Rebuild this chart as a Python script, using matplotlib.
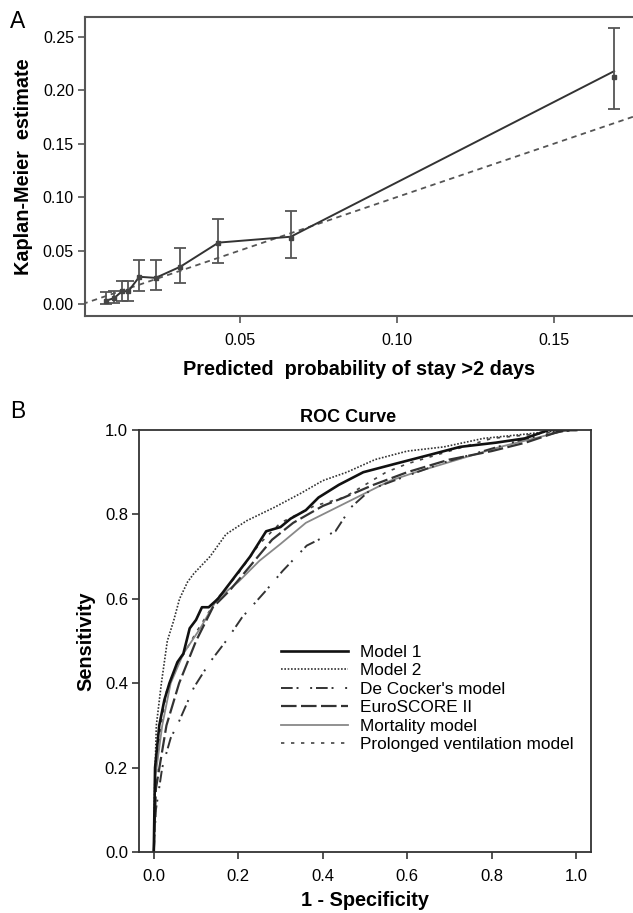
import matplotlib
matplotlib.use("Agg")
import matplotlib.pyplot as plt
import numpy as np

plt.rcParams['font.family'] = ['Liberation Sans', 'DejaVu Sans']

# ---------------- Panel A data (calibration) ----------------
pred_prob = [0.0074, 0.0101, 0.0126, 0.0146, 0.0181, 0.0233, 0.0312, 0.0433, 0.0663, 0.1693]
km_est    = [0.003, 0.0056, 0.012, 0.012, 0.0255, 0.0245, 0.035, 0.0575, 0.062, 0.2125]
ci_upper  = [0.011, 0.012, 0.022, 0.022, 0.041, 0.041, 0.052, 0.080, 0.0867, 0.258]
ci_lower  = [0.000, 0.0006, 0.003, 0.003, 0.0124, 0.013, 0.0196, 0.038, 0.0435, 0.1826]
line_est  = [0.003, 0.0056, 0.012, 0.012, 0.0255, 0.0245, 0.035, 0.0575, 0.063, 0.218]
ref_line  = [0.0, 0.2]
a_xticks  = [0.05, 0.10, 0.15]
a_yticks  = [0.00, 0.05, 0.10, 0.15, 0.20, 0.25]

# ---------------- Panel B data (ROC curves) ----------------
m1_fpr = [0, 0.003, 0.013, 0.025, 0.037, 0.056, 0.07, 0.085, 0.1, 0.114, 0.13, 0.152, 0.19, 0.228, 0.266, 0.3, 0.324, 0.36, 0.39, 0.438, 0.496, 0.572, 0.649, 0.725, 0.81, 0.878, 0.935, 1.0]
m1_tpr = [0, 0.2, 0.3, 0.36, 0.4, 0.45, 0.47, 0.53, 0.55, 0.58, 0.58, 0.6, 0.65, 0.7, 0.76, 0.77, 0.79, 0.81, 0.84, 0.87, 0.9, 0.92, 0.94, 0.96, 0.97, 0.98, 1.0, 1.0]

m2_fpr = [0, 0.002, 0.006, 0.018, 0.032, 0.047, 0.061, 0.08, 0.095, 0.133, 0.171, 0.22, 0.286, 0.348, 0.40, 0.457, 0.524, 0.60, 0.687, 0.78, 0.878, 0.973, 1.0]
m2_tpr = [0, 0.15, 0.3, 0.4, 0.5, 0.548, 0.6, 0.64, 0.66, 0.7, 0.753, 0.785, 0.817, 0.85, 0.88, 0.9, 0.93, 0.95, 0.96, 0.98, 0.99, 1.0, 1.0]

dc_fpr = [0, 0.005, 0.02, 0.04, 0.06, 0.095, 0.133, 0.171, 0.209, 0.266, 0.305, 0.362, 0.43, 0.467, 0.515, 0.59, 0.687, 0.78, 0.878, 0.973, 1.0]
dc_tpr = [0, 0.1, 0.2, 0.27, 0.31, 0.39, 0.45, 0.5, 0.556, 0.62, 0.666, 0.726, 0.76, 0.817, 0.86, 0.888, 0.923, 0.95, 0.979, 0.998, 1.0]

es_fpr = [0, 0.005, 0.03, 0.06, 0.10, 0.14, 0.18, 0.23, 0.28, 0.33, 0.40, 0.45, 0.52, 0.60, 0.70, 0.80, 0.88, 0.97, 1.0]
es_tpr = [0, 0.15, 0.3, 0.4, 0.5, 0.58, 0.62, 0.68, 0.74, 0.78, 0.82, 0.84, 0.87, 0.9, 0.93, 0.95, 0.97, 1.0, 1.0]

mo_fpr = [0, 0.004, 0.02, 0.04, 0.07, 0.11, 0.15, 0.20, 0.25, 0.30, 0.36, 0.42, 0.50, 0.56, 0.62, 0.72, 0.82, 0.90, 0.98, 1.0]
mo_tpr = [0, 0.18, 0.3, 0.4, 0.47, 0.53, 0.6, 0.64, 0.69, 0.73, 0.78, 0.81, 0.85, 0.88, 0.9, 0.93, 0.96, 0.98, 1.0, 1.0]

pv_fpr = [0, 0.004, 0.01, 0.03, 0.06, 0.10, 0.15, 0.20, 0.25, 0.30, 0.38, 0.45, 0.50, 0.55, 0.60, 0.70, 0.80, 0.90, 1.0]
pv_tpr = [0, 0.15, 0.25, 0.38, 0.45, 0.52, 0.6, 0.66, 0.73, 0.78, 0.82, 0.84, 0.87, 0.9, 0.92, 0.95, 0.98, 0.99, 1.0]

roc_labels = ["Model 1", "Model 2", "De Cocker's model", "EuroSCORE II",
              "Mortality model", "Prolonged ventilation model"]
b_ticks = [0.0, 0.2, 0.4, 0.6, 0.8, 1.0]

fig = plt.figure(figsize=(6.33, 9.13), dpi=100)

# ---------------- Panel A ----------------
axA = fig.add_axes([85/633, 1-316/913, 1-85/633, (316-17)/913])
axA.plot(ref_line, ref_line, ls=(0, (3, 2.5)), color='#555555', lw=1.3, zorder=1)
axA.plot(pred_prob, line_est, color='#333333', lw=1.4, zorder=2)
yerr = [np.array(km_est) - np.array(ci_lower), np.array(ci_upper) - np.array(km_est)]
axA.errorbar(pred_prob, km_est, yerr=yerr, fmt='s', ms=2.5, color='#444444',
             ecolor='#555555', elinewidth=1.3, capsize=4, capthick=1.3, zorder=3)
axA.set_xlim(0.0008, 0.1753)
axA.set_ylim(-0.0112, 0.2687)
axA.set_xticks(a_xticks)
axA.set_xticklabels([f"{t:.2f}" for t in a_xticks])
axA.set_yticks(a_yticks)
axA.set_yticklabels([f"{t:.2f}" for t in a_yticks])
for s in ['left', 'bottom', 'top']:
    axA.spines[s].set_color('#555555')
    axA.spines[s].set_linewidth(1.5)
axA.spines['right'].set_visible(False)
axA.tick_params(direction='out', length=5, width=1.2, color='#555555',
                labelsize=11.5, pad=3)
axA.tick_params(axis='x', pad=7)
axA.set_xlabel("Predicted  probability of stay >2 days", fontsize=14.3,
               fontweight='bold', labelpad=9)
axA.set_ylabel("Kaplan-Meier  estimate", fontsize=14.3, fontweight='bold', labelpad=7)
fig.text(10/633, 1-22/913, "A", fontsize=16.5, va='center', ha='left')

# ---------------- Panel B ----------------
axB = fig.add_axes([139/633, 1-852/913, (591-139)/633, (852-430)/913])
axB.plot(m2_fpr, m2_tpr, ls=(0, (1, 1)), color='#333333', lw=1.2, label=roc_labels[1])
axB.plot(pv_fpr, pv_tpr, ls=(0, (2, 4)), color='#444444', lw=1.2, label=roc_labels[5])
axB.plot(mo_fpr, mo_tpr, ls='-', color='#888888', lw=1.3, label=roc_labels[4])
axB.plot(es_fpr, es_tpr, ls=(0, (7, 2)), color='#333333', lw=1.6, label=roc_labels[3])
axB.plot(dc_fpr, dc_tpr, ls=(0, (6, 2, 1, 6, 1, 2)), color='#333333', lw=1.4, label=roc_labels[2])
axB.plot(m1_fpr, m1_tpr, ls='-', color='#111111', lw=1.9, label=roc_labels[0])
axB.set_xlim(-0.035, 1.035)
axB.set_ylim(0, 1)
axB.set_xticks(b_ticks)
axB.set_yticks(b_ticks)
axB.set_xticklabels([f"{t:.1f}" for t in b_ticks])
axB.set_yticklabels([f"{t:.1f}" for t in b_ticks])
for s in axB.spines.values():
    s.set_color('#333333')
    s.set_linewidth(1.3)
axB.tick_params(direction='out', length=5, width=1.2, color='#333333',
                labelsize=12, pad=3)
axB.tick_params(axis='x', pad=7)
axB.set_xlabel("1 - Specificity", fontsize=14.3, fontweight='bold', labelpad=5)
axB.set_ylabel("Sensitivity", fontsize=14.3, fontweight='bold', labelpad=7)
fig.text(348/633, 1-418/913, "ROC Curve", fontsize=13, fontweight='bold',
         ha='center', va='center')

handles, labels = axB.get_legend_handles_labels()
order = [labels.index(l) for l in roc_labels]
axB.legend([handles[i] for i in order], [labels[i] for i in order],
           loc='upper left', bbox_to_anchor=(0.30, 0.507), frameon=False,
           fontsize=12.4, handlelength=3.85, handletextpad=0.7, labelspacing=0.2,
           borderaxespad=0)
fig.text(10/633, 1-411/913, "B", fontsize=16.5, va='center', ha='left')

fig.savefig("out.png", dpi=100)
